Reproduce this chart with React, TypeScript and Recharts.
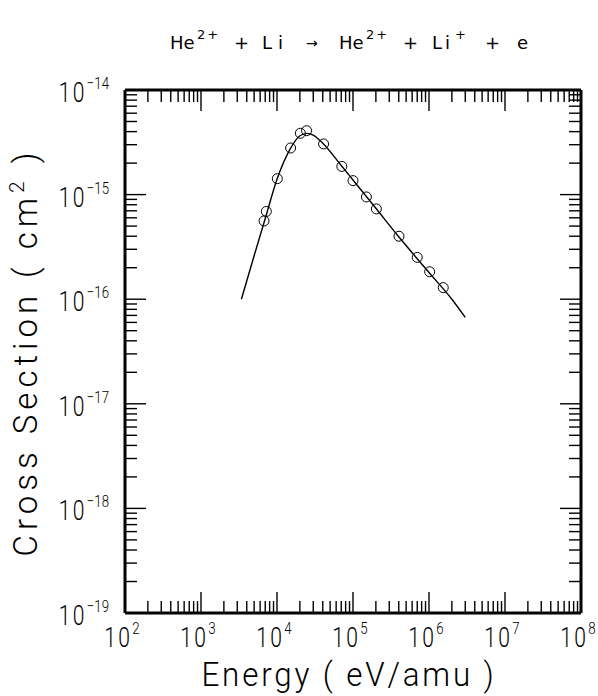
import React from 'react'
import { ComposedChart, Line, Scatter, XAxis, YAxis } from 'recharts'

// axis decades and minor steps
const xDecades = [1e2, 1e3, 1e4, 1e5, 1e6, 1e7, 1e8]
const yDecades = [1e-19, 1e-18, 1e-17, 1e-16, 1e-15, 1e-14]
const minorSteps = [2, 3, 4, 5, 6, 7, 8, 9]

// measured points (open circles)
const pointEnergy = [6.75e3, 7.24e3, 1.01e4, 1.51e4, 2.03e4, 2.45e4, 4.1e4, 7.13e4, 1.0e5, 1.5e5, 2.03e5, 4.03e5, 7.0e5, 1.02e6, 1.54e6]
const pointSigma = [5.6e-16, 6.9e-16, 1.42e-15, 2.79e-15, 3.86e-15, 4.08e-15, 3.05e-15, 1.86e-15, 1.36e-15, 9.5e-16, 7.3e-16, 4.0e-16, 2.51e-16, 1.83e-16, 1.29e-16]

// fitted curve
const fitEnergy = [3.4e3, 5e3, 7e3, 1e4, 1.5e4, 2e4, 2.5e4, 3e4, 4e4, 7e4, 1e5, 2e5, 4e5, 1e6, 2e6, 3e6]
const fitSigma = [1.0e-16, 2.6e-16, 5.9e-16, 1.4e-15, 2.75e-15, 3.65e-15, 3.85e-15, 3.7e-15, 3.1e-15, 1.9e-15, 1.38e-15, 7.4e-16, 3.95e-16, 1.8e-16, 1.0e-16, 6.7e-17]

const points = pointEnergy.map((energy, i) => ({ energy, sigma: pointSigma[i] }))
const fit = fitEnergy.map((energy, i) => ({ energy, sigma: fitSigma[i] }))

function withMinor(decades: number[]) {
  const out: number[] = []
  decades.forEach((d, i) => {
    out.push(d)
    if (i < decades.length - 1) minorSteps.forEach(m => out.push(d * m))
  })
  return out
}

const xTicks = withMinor(xDecades)
const yTicks = withMinor(yDecades)

const FONT = 'DejaVu Sans'
const THIN = 'Roboto'

function expOf(v: number) {
  const l = Math.log10(v)
  const r = Math.round(l)
  return { major: Math.abs(l - r) < 1e-6, exp: r }
}

function Pow({ x, y, exp, anchor }: { x: number; y: number; exp: number; anchor: 'middle' | 'end' }) {
  const sup = exp < 0 ? `\u2212${-exp}` : `${exp}`
  return (
    <g transform={`translate(${x} ${y}) scale(0.78 1)`}>
      <text x={0} y={0} textAnchor={anchor} fontFamily={THIN} fontWeight={300} fontSize={27} fill="#000">
        1<tspan dx={3}>0</tspan><tspan fontSize={17} dy={-13} dx={3}>{sup}</tspan>
      </text>
    </g>
  )
}

function AxisTick(props: any) {
  const { x, y, payload, side } = props
  const { major, exp } = expOf(payload.value)
  const len = major ? 21 : 12
  let x2 = x, y2 = y
  if (side === 'bottom') y2 = y - len
  if (side === 'top') y2 = y + len
  if (side === 'left') x2 = x + len
  if (side === 'right') x2 = x - len
  return (
    <g>
      <line x1={x} y1={y} x2={x2} y2={y2} stroke="#000" strokeWidth={1.4} />
      {major && side === 'bottom' && <Pow x={x - 3} y={y + 34} exp={exp} anchor="middle" />}
      {major && side === 'left' && <Pow x={x - 16} y={y + 12} exp={exp} anchor="end" />}
    </g>
  )
}

function Circle(props: any) {
  const { cx, cy } = props
  return <circle cx={cx} cy={cy} r={5} fill="none" stroke="#000" strokeWidth={1} />
}

const frame = { stroke: '#000', strokeWidth: 3 }

const titleProps = { fontFamily: FONT, fill: '#000' }

export default function App() {
  return (
    <div style={{ position: 'absolute', left: 0, top: 0, width: 598, height: 696, background: '#fff' }}>
      <ComposedChart width={598} height={696} margin={{ top: 89, right: 16, bottom: 82, left: 124 }}>
        <XAxis
          xAxisId="bottom" dataKey="energy" type="number" scale="log" domain={[1e2, 1e8]} allowDataOverflow
          ticks={xTicks} interval={0} height={1} tickSize={0} tickMargin={0} tickLine={false}
          axisLine={frame} tick={<AxisTick side="bottom" />}
        />
        <XAxis
          xAxisId="top" orientation="top" dataKey="energy" type="number" scale="log" domain={[1e2, 1e8]} allowDataOverflow
          ticks={xTicks} interval={0} height={1} tickSize={0} tickMargin={0} tickLine={false}
          axisLine={frame} tick={<AxisTick side="top" />}
        />
        <YAxis
          yAxisId="left" dataKey="sigma" type="number" scale="log" domain={[1e-19, 1e-14]} allowDataOverflow
          ticks={yTicks} interval={0} width={1} tickSize={0} tickMargin={0} tickLine={false}
          axisLine={frame} tick={<AxisTick side="left" />}
        />
        <YAxis
          yAxisId="right" orientation="right" dataKey="sigma" type="number" scale="log" domain={[1e-19, 1e-14]} allowDataOverflow
          ticks={yTicks} interval={0} width={1} tickSize={0} tickMargin={0} tickLine={false}
          axisLine={frame} tick={<AxisTick side="right" />}
        />
        <Line
          xAxisId="bottom" yAxisId="left" data={fit} dataKey="sigma" type="monotone"
          stroke="#000" strokeWidth={1.4} dot={false} isAnimationActive={false}
        />
        <Scatter
          xAxisId="bottom" yAxisId="left" data={points} dataKey="sigma"
          shape={<Circle />} isAnimationActive={false}
        />
      </ComposedChart>
      <svg width={598} height={696} style={{ position: 'absolute', left: 0, top: 0, pointerEvents: 'none' }}>
        <text {...titleProps} fontSize={18}>
          <tspan x={170} y={49}>He</tspan>
          <tspan x={197} y={39} fontSize={13} letterSpacing={2}>2+</tspan>
          <tspan x={234} y={49}>+</tspan>
          <tspan x={262} y={49} letterSpacing={6}>Li</tspan>
          <tspan x={306} y={48} fontSize={14}>{'\u2192'}</tspan>
          <tspan x={339} y={49}>He</tspan>
          <tspan x={366} y={39} fontSize={13} letterSpacing={2}>2+</tspan>
          <tspan x={403} y={49}>+</tspan>
          <tspan x={432} y={49} letterSpacing={3}>Li</tspan>
          <tspan x={455} y={39} fontSize={13}>+</tspan>
          <tspan x={485} y={49}>+</tspan>
          <tspan x={517} y={49}>e</tspan>
        </text>
        <g transform="translate(349 686) scale(0.95 1)">
          <text x={0} y={0} textAnchor="middle" fontFamily={THIN} fontWeight={300} fontSize={33} fill="#000" letterSpacing={3} style={{ whiteSpace: 'pre' }}>
            Energy ( eV/amu )
          </text>
        </g>
        <text
          transform="translate(37 352) rotate(-90)" x={0} y={0} textAnchor="middle"
          fontFamily={THIN} fontWeight={300} fontSize={33} fill="#000" letterSpacing={5} style={{ whiteSpace: 'pre' }}
        >
          Cross Section ( cm<tspan fontSize={21} dy={-13}>2</tspan><tspan dy={13}> )</tspan>
        </text>
      </svg>
    </div>
  )
}
